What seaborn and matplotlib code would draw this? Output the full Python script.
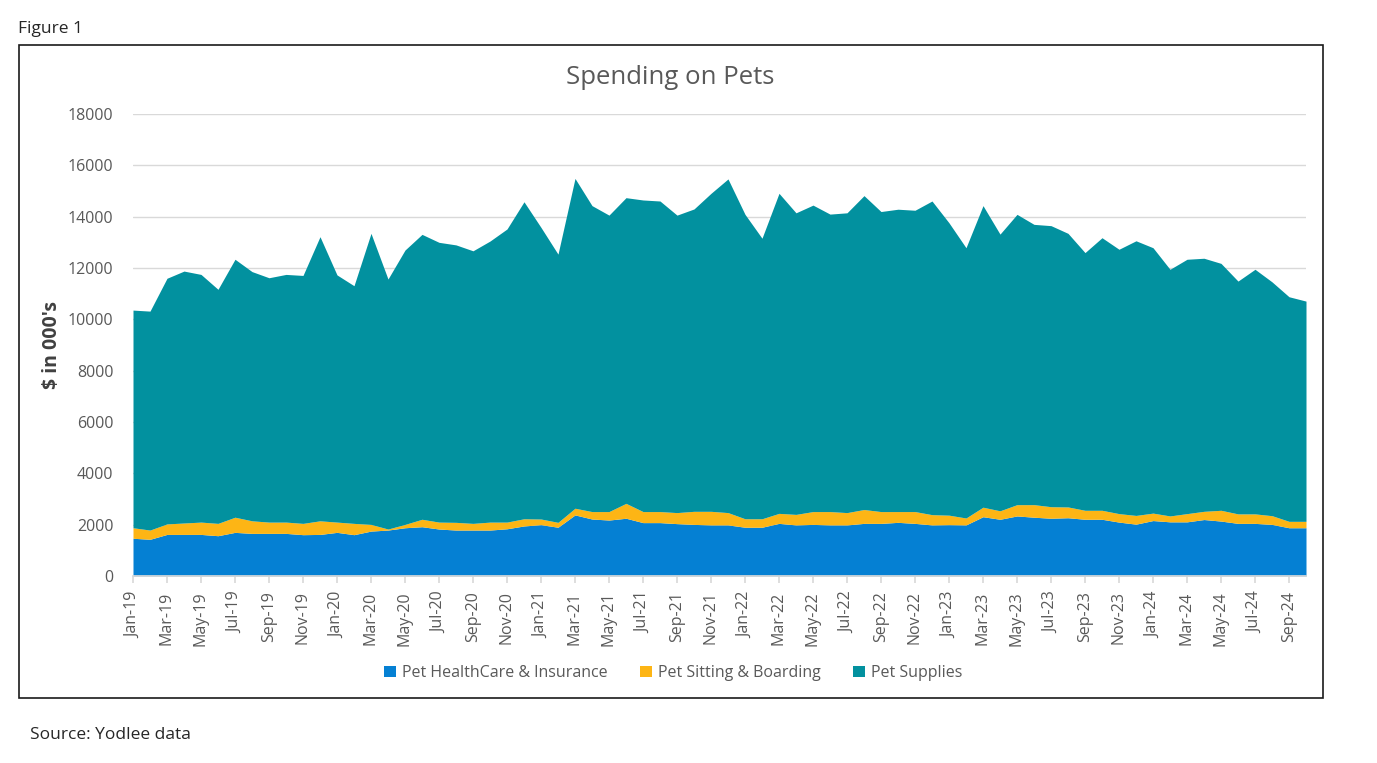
"""
plot.py - Spending on Pets (stacked area)
"""

import pandas as pd
import matplotlib.pyplot as plt
import seaborn as sns
from matplotlib.patches import Patch, Rectangle

# Monthly categories Jan-19 .. Oct-24
months = pd.date_range('2019-01-01', periods=70, freq='MS').strftime('%b-%y').tolist()

# $ in 000's
healthcare = [1470, 1430, 1620, 1620, 1620, 1570, 1700, 1660, 1660, 1660,
              1610, 1620, 1700, 1610, 1750, 1790, 1880, 1920, 1830, 1790,
              1790, 1790, 1840, 1950, 2000, 1900, 2380, 2220, 2180, 2250,
              2080, 2080, 2040, 2010, 1990, 1990, 1900, 1900, 2050, 1990,
              2010, 1990, 1990, 2050, 2050, 2090, 2050, 1990, 2000, 1990,
              2310, 2210, 2340, 2290, 2250, 2270, 2210, 2210, 2100, 2020,
              2160, 2110, 2110, 2200, 2140, 2050, 2050, 2010, 1880, 1880]

sitting = [410, 360, 410, 445, 480, 480, 590, 490, 440, 440,
           440, 530, 400, 440, 260, 40, 130, 290, 270, 300,
           260, 310, 260, 280, 220, 190, 260, 290, 330, 580,
           430, 430, 430, 510, 530, 480, 330, 330, 390, 410,
           500, 520, 480, 540, 460, 420, 460, 400, 370, 270,
           370, 330, 440, 490, 450, 420, 350, 350, 330, 340,
           290, 230, 320, 320, 420, 370, 370, 340, 250, 250]

supplies = [8480, 8530, 9570, 9815, 9650, 9120, 10050, 9710, 9520, 9650,
            9660, 11070, 9630, 9260, 11340, 9740, 10690, 11100, 10900, 10810,
            10620, 10950, 11420, 12350, 11360, 10450, 12850, 11920, 11550, 11910,
            12140, 12100, 11590, 11780, 12390, 13000, 11860, 10930, 12470, 11750,
            11940, 11590, 11680, 12230, 11690, 11780, 11740, 12220, 11390, 10530,
            11750, 10780, 11310, 10920, 10950, 10660, 10040, 10620, 10300, 10700,
            10340, 9610, 9910, 9860, 9620, 9070, 9530, 9110, 8750, 8580]

series_names = ['Pet HealthCare & Insurance', 'Pet Sitting & Boarding', 'Pet Supplies']
colors = ['#0580D3', '#FDB515', '#02919F']

df = pd.DataFrame({'month': months,
                   series_names[0]: healthcare,
                   series_names[1]: sitting,
                   series_names[2]: supplies})

sns.set_theme(style='white')
sns.set_palette(colors)
plt.rcParams['font.family'] = ['Open Sans', 'DejaVu Sans']

W, H = 1377, 763
fig = plt.figure(figsize=(W / 100, H / 100), dpi=100)

# chart frame
fig.patches.append(Rectangle((19 / W, 1 - 698 / H), (1323 - 19) / W, (698 - 45) / H,
                             transform=fig.transFigure, fill=False,
                             edgecolor='#1a1a1a', linewidth=1.2))

ax = fig.add_axes([133 / W, 1 - 576 / H, (1306 - 133) / W, (576 - 114) / H])

x = range(len(df))
ax.stackplot(x, df[series_names[0]], df[series_names[1]], df[series_names[2]],
             colors=colors, linewidth=0)

ax.set_xlim(0, len(df) - 1)
ax.set_ylim(0, 18000)
ax.set_yticks(range(0, 18001, 2000))
ax.yaxis.grid(True, color='#d9d9d9', linewidth=1)
ax.set_axisbelow(True)
for side in ['top', 'right', 'left']:
    ax.spines[side].set_visible(False)
ax.spines['bottom'].set_color('#d9d9d9')

ax.set_xticks(list(x)[::2])
ax.set_xticklabels(df['month'][::2], rotation=90)
ax.tick_params(axis='x', bottom=True, length=5, color='#d9d9d9',
               labelsize=11.5, labelcolor='#595959', pad=6)
ax.tick_params(axis='y', left=False, length=0, labelsize=11.5, labelcolor='#595959', pad=14)

ax.set_ylabel("$ in 000's", fontsize=14, fontweight='bold', color='#404040')
ax.yaxis.set_label_coords((62 - 133) / (1306 - 133), 0.5)

fig.text(670 / W, 1 - 77 / H, 'Spending on Pets', ha='center', va='center',
         fontsize=18.5, color='#595959')

handles = [Patch(facecolor=c, edgecolor='none') for c in colors]
fig.legend(handles, series_names, loc='center', bbox_to_anchor=(673 / W, 1 - 673 / H),
           ncol=3, frameon=False, fontsize=11.5, labelcolor='#595959',
           handlelength=0.75, handleheight=0.75, handletextpad=0.4, columnspacing=2.0)

fig.text(18 / W, 1 - 29 / H, 'Figure 1', ha='left', va='center', fontsize=12.5, color='#262626')
fig.text(30 / W, 1 - 735 / H, 'Source: Yodlee data', ha='left', va='center',
         fontsize=12.5, color='#262626')

plt.savefig('out.png', dpi=100)
plt.close()
